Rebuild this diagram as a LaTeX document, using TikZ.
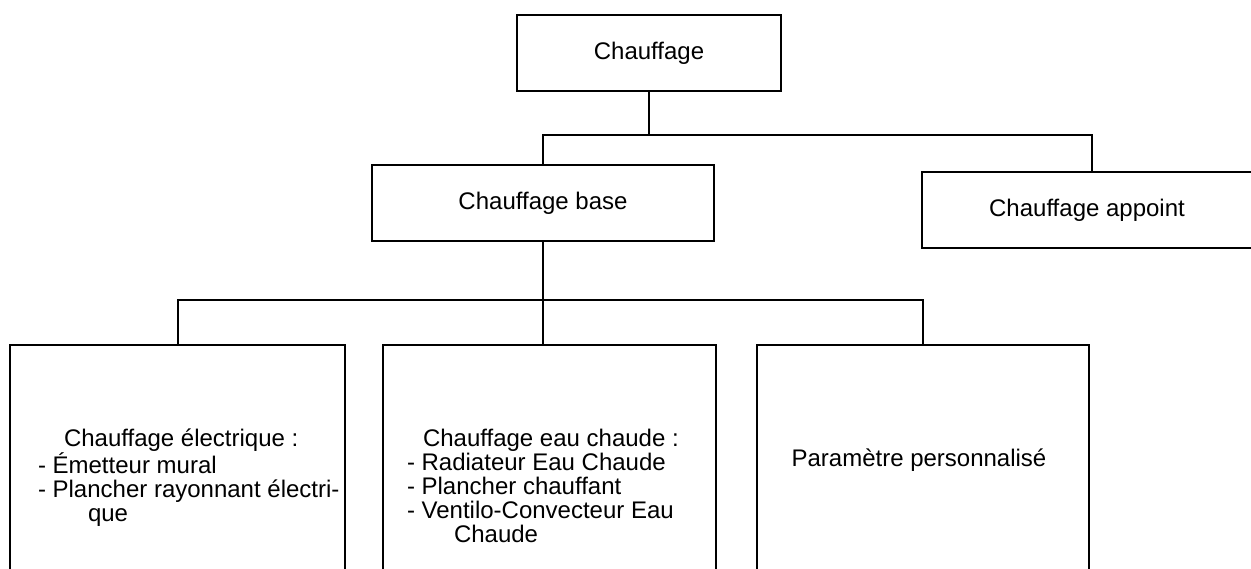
\documentclass[tikz,border=0pt]{standalone}
\usepackage{fontspec}
\setmainfont{Liberation Sans}
\begin{document}
\begin{tikzpicture}[x=1pt,y=-1pt,line width=2pt,
  txt/.style={font=\fontsize{24}{24}\selectfont},
  box/.style={draw,rectangle,inner sep=0pt,txt},
  lbl/.style={inner sep=0pt,align=left,anchor=north west,txt}]
\useasboundingbox (0,0) rectangle (1251,569);
\clip (0,0) rectangle (1251,569);
% boxes
\node[box,minimum width=264pt,minimum height=76pt] (top) at (649,53) {Chauffage};
\node[box,minimum width=342pt,minimum height=76pt] (base) at (543,203) {Chauffage base};
\node[box,minimum width=340pt,minimum height=76pt] (app) at (1092,210) {\hspace*{-10pt}Chauffage appoint};
\node[box,minimum width=335pt,minimum height=265pt] (b1) at (177.5,477.5) {};
\node[box,minimum width=333pt,minimum height=265pt] (b2) at (549.5,477.5) {};
\node[box,minimum width=332pt,minimum height=265pt] (b3) at (923,477.5) {};
% texts of the bottom boxes
\node[lbl] (t1) at (37,428) {\hspace*{26pt}Chauffage électrique :\\- Émetteur mural\\- Plancher rayonnant électri-\\\hspace*{50pt}que};
\node[lbl] (t2) at (406,428) {\hspace*{16pt}Chauffage eau chaude :\\- Radiateur Eau Chaude\\- Plancher chauffant\\- Ventilo-Convecteur Eau\\\hspace*{47pt}Chaude};
\node[inner sep=0pt,txt] (t3) at (919,460) {Paramètre personnalisé};
% connectors
\coordinate (j1) at (649,135);
\coordinate (j2) at (543,300);
\draw (top.south) -- (j1);
\draw (base.north) -- (base.north |- j1) -- (app.north |- j1) -- (app.north);
\draw (base.south) -- (j2 |- b2.north);
\draw (b1.north) -- (b1.north |- j2) -- (b3.north |- j2) -- (b3.north);
\end{tikzpicture}
\end{document}
